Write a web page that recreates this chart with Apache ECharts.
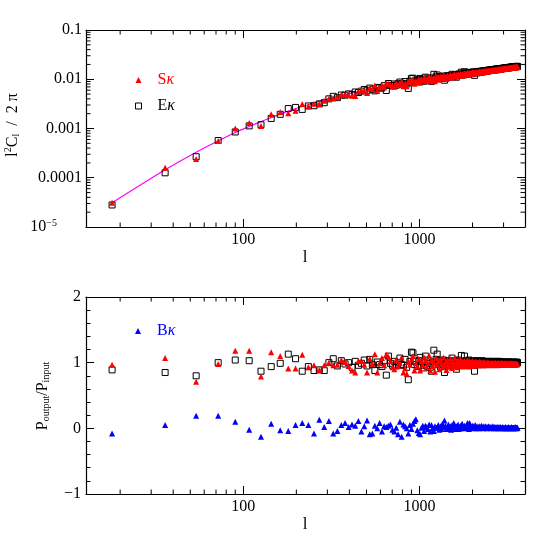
<!DOCTYPE html>
<html><head><meta charset="utf-8">
<script src="https://cdn.jsdelivr.net/npm/echarts@6/dist/echarts.min.js"></script>
<style>html,body{margin:0;padding:0;background:#fff}#c{width:554px;height:554px}</style>
</head><body><div id="c"></div>
<script>
// multipole bin centres
const ell = [18,36,54,72,90,108,126,144,162,180,
198,216,234,252,270,288,306,324,342,360,
378,396,414,432,450,468,486,504,522,540,
558,576,594,612,630,648,666,684,702,720,
738,756,774,792,810,828,846,864,882,900,
918,936,954,972,990,1008,1026,1044,1062,1080,
1098,1116,1134,1152,1170,1188,1206,1224,1242,1260,
1278,1296,1314,1332,1350,1368,1386,1404,1422,1440,
1458,1476,1494,1512,1530,1548,1566,1584,1602,1620,
1638,1656,1674,1692,1710,1728,1746,1764,1782,1800,
1818,1836,1854,1872,1890,1908,1926,1944,1962,1980,
1998,2016,2034,2052,2070,2088,2106,2124,2142,2160,
2178,2196,2214,2232,2250,2268,2286,2304,2322,2340,
2358,2376,2394,2412,2430,2448,2466,2484,2502,2520,
2538,2556,2574,2592,2610,2628,2646,2664,2682,2700,
2718,2736,2754,2772,2790,2808,2826,2844,2862,2880,
2898,2916,2934,2952,2970,2988,3006,3024,3042,3060,
3078,3096,3114,3132,3150,3168,3186,3204,3222,3240,
3258,3276,3294,3312,3330,3348,3366,3384,3402,3420,
3438,3456,3474,3492,3510,3528,3546,3564,3582,3600];

// l^2 C_l / 2pi, S kappa (top panel)
const clS = [0.000031,0.00016,0.00024,0.00056,0.0010,0.0013,0.00112,0.00195,0.00216,0.00205,0.0023,0.00314,0.00284,0.00317,0.00316,0.00365,0.0040,0.00408,0.00432,
0.00484,0.0049,0.0048,0.00462,0.00459,0.00571,0.00597,0.00577,0.00523,0.00668,
0.00632,0.00746,0.00574,0.00683,0.00754,0.00691,0.00818,0.00812,0.00775,0.00716,
0.00707,0.00827,0.0077,0.00812,0.00896,0.00718,0.00778,0.00718,0.00889,0.00863,
0.00945,0.0100,0.0081,0.00921,0.00884,0.0101,0.00845,0.00989,0.00941,0.0107,
0.0103,0.00935,0.0100,0.0113,0.00906,0.0108,0.00993,0.0106,0.00912,0.0114,
0.0105,0.0111,0.00981,0.0116,0.0109,0.0103,0.0121,0.0108,0.0114,0.0101,
0.0119,0.0113,0.0109,0.0123,0.0117,0.0108,0.0122,0.0115,0.0128,0.0115,
0.0122,0.0114,0.0128,0.0121,0.0119,0.0131,0.0124,0.0118,0.0130,0.0124,
0.0133,0.0123,0.0130,0.0128,0.0137,0.0124,0.0131,0.0136,0.0129,0.0136,
0.0131,0.0140,0.0130,0.0137,0.0135,0.0141,0.0133,0.0138,0.0141,0.0136,
0.0141,0.0136,0.0145,0.0140,0.0139,0.0145,0.0143,0.0139,0.0145,0.0143,
0.0148,0.0143,0.0146,0.0142,0.0149,0.0147,0.0152,0.0146,0.0149,0.0148,
0.0147,0.0153,0.0150,0.0147,0.0152,0.0155,0.0150,0.0152,0.0154,0.0152,
0.0158,0.0153,0.0155,0.0157,0.0153,0.0157,0.0161,0.0156,0.0158,0.0160,
0.0158,0.0160,0.0164,0.0160,0.0162,0.0164,0.0161,0.0163,0.0165,0.0164,
0.0163,0.0167,0.0166,0.0164,0.0168,0.0167,0.0166,0.0168,0.0170,0.0169,
0.0168,0.0170,0.0172,0.0169,0.0172,0.0172,0.0174,0.0171,0.0173,0.0174,
0.0176,0.0173,0.0175,0.0176,0.0175,0.0179,0.0177,0.0177,0.0176,0.0178,
0.0179];

// l^2 C_l / 2pi, E kappa (top panel)
const clE = [0.000028,0.000126,0.000267,0.00057,0.00085,0.00113,0.00119,0.0016,0.00194,0.00254,0.00268,0.00244,0.00287,0.0029,0.00316,0.00334,0.0040,0.0045,0.00423,
0.00479,0.00475,0.00505,0.00488,0.00551,0.00538,0.00574,0.00619,0.00584,0.00662,
0.00626,0.00581,0.00682,0.00669,0.00663,0.00742,0.00591,0.0082,0.00752,0.00739,
0.00801,0.00755,0.0081,0.00877,0.00805,0.00811,0.00898,0.00804,0.00651,0.00908,
0.0104,0.0105,0.00892,0.00949,0.00884,0.00984,0.0104,0.00931,0.0099,0.00911,
0.0110,0.00965,0.0106,0.0101,0.00958,0.00905,0.0106,0.0126,0.0103,0.0112,
0.0122,0.0106,0.0112,0.0103,0.0112,0.0108,0.0116,0.00956,0.0112,0.0116,
0.0110,0.0118,0.0113,0.0117,0.0111,0.0126,0.0118,0.0115,0.0123,0.0119,
0.0110,0.0125,0.0122,0.0128,0.0120,0.0126,0.0139,0.0123,0.0130,0.0122,
0.0142,0.0128,0.0134,0.0127,0.0133,0.0129,0.0138,0.0132,0.0129,0.0137,
0.0136,0.0132,0.0141,0.0136,0.0120,0.0141,0.0136,0.0140,0.0135,0.0144,
0.0140,0.0144,0.0138,0.0144,0.0143,0.0141,0.0148,0.0143,0.0146,0.0142,
0.0149,0.0147,0.0145,0.0149,0.0148,0.0152,0.0147,0.0151,0.0153,0.0150,
0.0155,0.0151,0.0153,0.0155,0.0151,0.0158,0.0155,0.0154,0.0158,0.0157,
0.0156,0.0160,0.0162,0.0157,0.0160,0.0162,0.0159,0.0161,0.0165,0.0160,
0.0163,0.0165,0.0162,0.0165,0.0167,0.0166,0.0164,0.0168,0.0167,0.0166,
0.0170,0.0169,0.0167,0.0170,0.0172,0.0169,0.0171,0.0172,0.0174,0.0171,
0.0173,0.0175,0.0172,0.0175,0.0175,0.0174,0.0178,0.0177,0.0175,0.0178,
0.0178,0.0177,0.0181,0.0180,0.0178,0.0181,0.0181,0.0179,0.0183,0.0182,
0.0182];

// input (theory) spectrum, magenta curve
const theoryL = [18,36,54,72,90,108,126,144,180,216,252,288,324,360,400,450,500,600,700,800,900,1000,1200,1400,1600,1800,2000,2400,2800,3200,3600];
const theoryV = [3.1e-5,1.45e-4,3.3e-4,5.6e-4,8.3e-4,1.1e-3,1.38e-3,1.66e-3,2.25e-3,2.8e-3,3.3e-3,3.8e-3,4.25e-3,4.65e-3,5.1e-3,5.6e-3,6.1e-3,6.95e-3,7.7e-3,8.4e-3,9.0e-3,9.6e-3,1.05e-2,1.135e-2,1.215e-2,1.29e-2,1.36e-2,1.49e-2,1.61e-2,1.72e-2,1.82e-2];

// P_output / P_input (bottom panel)
const ratioS = [0.97,1.07,0.71,0.98,1.18,1.18,0.79,1.16,1.10,0.91,0.91,1.12,0.93,0.96,0.89,0.96,1.00,0.96,0.97,
1.04,1.01,0.95,0.88,0.85,1.02,1.03,0.97,0.85,1.06,
0.98,1.13,0.85,0.99,1.07,0.96,1.12,1.09,1.02,0.93,
0.90,1.04,0.95,0.99,1.08,0.85,0.91,0.83,1.01,0.97,
1.05,1.10,0.88,0.99,0.94,1.06,0.88,1.02,0.96,1.08,
1.03,0.93,0.99,1.11,0.88,1.04,0.95,1.00,0.86,1.07,
0.97,1.02,0.90,1.05,0.99,0.93,1.08,0.96,1.01,0.89,
1.04,0.98,0.94,1.06,1.00,0.92,1.03,0.97,1.07,0.95,
1.00,0.93,1.04,0.98,0.96,1.05,0.99,0.94,1.02,0.97,
1.03,0.95,1.00,0.98,1.04,0.94,0.99,1.02,0.96,1.01,
0.97,1.03,0.95,1.00,0.98,1.02,0.96,0.99,1.01,0.97,
1.00,0.96,1.02,0.98,0.97,1.01,0.99,0.96,1.00,0.98,
1.01,0.97,0.99,0.96,1.00,0.98,1.01,0.97,0.99,0.98,
0.97,1.00,0.98,0.96,0.99,1.00,0.97,0.98,0.99,0.97,
1.00,0.97,0.98,0.99,0.96,0.98,1.00,0.97,0.98,0.99,
0.97,0.98,1.00,0.97,0.98,0.99,0.97,0.98,0.99,0.98,
0.97,0.99,0.98,0.97,0.99,0.98,0.97,0.98,0.99,0.98,
0.97,0.98,0.99,0.97,0.98,0.98,0.99,0.97,0.98,0.98,
0.99,0.97,0.98,0.98,0.97,0.99,0.98,0.98,0.97,0.98,
0.98];
const ratioE = [0.89,0.85,0.80,1.00,1.04,1.03,0.87,0.94,0.99,1.13,1.06,0.87,0.94,0.88,0.89,0.88,1.00,1.06,0.95,
1.03,0.98,1.00,0.93,1.02,0.96,0.99,1.04,0.95,1.05,
0.97,0.88,1.01,0.97,0.94,1.03,0.81,1.10,0.99,0.96,
1.02,0.95,1.00,1.07,0.97,0.96,1.05,0.93,0.74,1.02,
1.16,1.15,0.97,1.02,0.94,1.03,1.08,0.96,1.01,0.92,
1.10,0.96,1.04,0.99,0.93,0.87,1.01,1.19,0.97,1.05,
1.13,0.98,1.03,0.94,1.01,0.97,1.04,0.85,0.99,1.02,
0.96,1.03,0.98,1.01,0.95,1.07,1.00,0.97,1.03,0.98,
0.90,1.02,0.99,1.04,0.97,1.01,1.11,0.98,1.02,0.96,
1.10,0.99,1.03,0.97,1.01,0.98,1.04,0.99,0.96,1.02,
1.00,0.97,1.03,0.99,0.87,1.02,0.98,1.01,0.97,1.03,
0.99,1.02,0.97,1.01,1.00,0.98,1.03,0.99,1.01,0.97,
1.02,1.00,0.98,1.01,0.99,1.02,0.98,1.00,1.01,0.99,
1.02,0.99,1.00,1.01,0.98,1.02,1.00,0.99,1.01,1.00,
0.99,1.01,1.02,0.99,1.00,1.01,0.99,1.00,1.02,0.99,
1.00,1.01,0.99,1.00,1.01,1.00,0.99,1.01,1.00,0.99,
1.01,1.00,0.99,1.00,1.01,0.99,1.00,1.00,1.01,0.99,
1.00,1.01,0.99,1.00,1.00,0.99,1.01,1.00,0.99,1.00,
1.00,0.99,1.01,1.00,0.99,1.00,1.00,0.99,1.01,1.00,
1.00];
const ratioB = [-0.08,0.05,0.19,0.19,0.10,-0.02,-0.13,0.07,-0.03,-0.04,0.05,0.08,0.05,-0.08,0.13,0.02,0.11,-0.08,-0.04,
0.05,0.08,0.02,0.06,0.04,0.11,-0.05,0.03,0.12,-0.09,
-0.08,0.04,0.00,0.08,-0.05,0.03,0.02,0.04,0.06,-0.02,
-0.05,0.01,-0.09,0.10,-0.13,0.06,0.03,0.00,-0.08,0.05,
-0.01,0.07,0.11,0.14,-0.03,-0.07,-0.09,0.01,0.04,-0.04,
0.04,0.02,-0.01,0.06,-0.05,0.05,0.00,-0.04,0.03,0.01,
0.01,0.05,-0.02,0.03,-0.01,0.07,0.02,0.12,0.04,-0.01,
0.02,0.06,0.00,0.03,-0.02,0.05,0.01,0.08,0.02,-0.01,
0.03,0.01,0.06,-0.01,0.02,0.04,0.00,0.07,0.02,0.01,
0.04,0.00,0.03,0.02,0.08,0.01,-0.01,0.08,0.03,0.01,
0.02,0.04,0.00,0.03,0.01,0.05,0.02,0.00,0.03,0.01,
0.02,0.00,0.03,0.01,0.02,0.04,0.01,0.02,0.00,0.03,
0.01,0.02,0.03,0.01,0.00,0.02,0.01,0.03,0.02,0.01,
0.02,0.00,0.01,0.02,0.01,0.03,0.01,0.00,0.02,0.01,
0.01,0.02,0.00,0.01,0.02,0.01,0.00,0.02,0.01,0.01,
0.02,0.01,0.00,0.01,0.01,0.02,0.00,0.01,0.01,0.00,
0.01,0.02,0.01,0.00,0.01,0.01,0.00,0.01,0.02,0.01,
0.00,0.01,0.01,0.00,0.01,0.02,0.01,0.00,0.01,0.01,
0.01,0.00,0.01,0.01,0.02,0.00,0.01,0.01,0.00,0.01,
0.01];

// minor tick positions
const minorX = [20,30,40,50,60,70,80,90,200,300,400,500,600,700,800,900,2000,3000];
const minorYTop = [2e-5,3e-5,4e-5,5e-5,6e-5,7e-5,8e-5,9e-5,2e-4,3e-4,4e-4,5e-4,6e-4,7e-4,8e-4,9e-4,
  2e-3,3e-3,4e-3,5e-3,6e-3,7e-3,8e-3,9e-3,0.02,0.03,0.04,0.05,0.06,0.07,0.08,0.09];

[clS, clE, ratioS, ratioE, ratioB].forEach((a, i) => {
  if (a.length !== ell.length) throw new Error('length mismatch in array ' + i + ': ' + a.length);
});

const FONT = 'Liberation Serif';
const pairs = (xs, ys) => xs.map((x, i) => [x, ys[i]]);
const XMIN = 12.8, XMAX = 3970;
const axLine = {onZero: false, lineStyle: {color: '#000', width: 1.2}};
const tick = {inside: true, length: 8, lineStyle: {color: '#000', width: 1}};
const lab = {color: '#000', fontFamily: FONT, fontSize: 16};

function xPair(gi) {
  return [
    {type: 'log', gridIndex: gi, min: XMIN, max: XMAX, position: 'bottom', axisLine: axLine, axisTick: tick,
     axisLabel: Object.assign({showMinLabel: false, showMaxLabel: false, margin: 5,
       formatter: v => String(Math.round(v))}, lab), splitLine: {show: false}},
    {type: 'log', gridIndex: gi, min: XMIN, max: XMAX, position: 'top', axisLine: axLine, axisTick: tick,
     axisLabel: {show: false}, splitLine: {show: false}}
  ];
}
const yTopFmt = v => {
  const e = Math.round(Math.log10(v));
  if (e <= -5) return '{b|10}{s|−' + (-e) + '}{g| }';
  return v.toFixed(-e);
};
const yAxes = [
  {type: 'log', gridIndex: 0, min: 1e-5, max: 0.1, position: 'left', axisLine: axLine, axisTick: tick,
   axisLabel: Object.assign({margin: 4, formatter: yTopFmt,
     rich: {b: {fontFamily: FONT, fontSize: 16, color: '#000'},
            s: {fontFamily: FONT, fontSize: 10, color: '#000', padding: [0, 0, 7, 0]},
            g: {width: 25}}}, lab), splitLine: {show: false}},
  {type: 'log', gridIndex: 0, min: 1e-5, max: 0.1, position: 'right', axisLine: axLine, axisTick: tick,
   axisLabel: {show: false}, splitLine: {show: false}},
  {type: 'value', gridIndex: 1, min: -1, max: 2, interval: 1, position: 'left', axisLine: axLine, axisTick: tick,
   minorTick: {show: true, splitNumber: 5, length: 4.5, lineStyle: {color: '#000'}},
   axisLabel: Object.assign({margin: 5, formatter: v => v < 0 ? '−' + Math.abs(v) : String(v)}, lab),
   splitLine: {show: false}, minorSplitLine: {show: false}},
  {type: 'value', gridIndex: 1, min: -1, max: 2, interval: 1, position: 'right', axisLine: axLine, axisTick: tick,
   minorTick: {show: true, splitNumber: 5, length: 4.5, lineStyle: {color: '#000'}},
   axisLabel: {show: false}, splitLine: {show: false}, minorSplitLine: {show: false}}
];

function minorXSeries(axisIdx, yDummy) {
  return {type: 'custom', xAxisIndex: axisIdx, yAxisIndex: axisIdx, silent: true, z: 10, clip: false,
    data: minorX.map(v => [v, yDummy]),
    renderItem: (params, api) => {
      const cs = params.coordSys;
      const x = api.coord([api.value(0), api.value(1)])[0];
      return {type: 'group', children: [
        {type: 'line', shape: {x1: x, y1: cs.y, x2: x, y2: cs.y + 4.5}, style: {stroke: '#000', lineWidth: 1}},
        {type: 'line', shape: {x1: x, y1: cs.y + cs.height, x2: x, y2: cs.y + cs.height - 4.5}, style: {stroke: '#000', lineWidth: 1}}
      ]};
    }};
}
function minorYSeries(axisIdx, xDummy, vals) {
  return {type: 'custom', xAxisIndex: axisIdx, yAxisIndex: axisIdx, silent: true, z: 10, clip: false,
    data: vals.map(v => [xDummy, v]),
    renderItem: (params, api) => {
      const cs = params.coordSys;
      const y = api.coord([api.value(0), api.value(1)])[1];
      return {type: 'group', children: [
        {type: 'line', shape: {x1: cs.x, y1: y, x2: cs.x + 4.5, y2: y}, style: {stroke: '#000', lineWidth: 1}},
        {type: 'line', shape: {x1: cs.x + cs.width, y1: y, x2: cs.x + cs.width - 4.5, y2: y}, style: {stroke: '#000', lineWidth: 1}}
      ]};
    }};
}

const sqStyle = {color: 'rgba(0,0,0,0)', borderColor: '#000', borderWidth: 1, opacity: 1};
const legendText = {fontFamily: FONT, fontSize: 16, padding: [0, 0, 0, 11],
  rich: {k: {fontFamily: FONT, fontSize: 16, fontStyle: 'italic'}}};

const option = {
  animation: false,
  backgroundColor: '#fff',
  grid: [
    {left: 86, top: 30, width: 439, height: 197},
    {left: 86, top: 297, width: 439, height: 197}
  ],
  xAxis: [].concat(xPair(0), xPair(1)),
  yAxis: yAxes,
  legend: [
    {data: [{name: 'S', textStyle: {color: '#ff0000'}}, {name: 'E', textStyle: {color: '#000'}}],
     orient: 'vertical', left: 130, top: 67, itemWidth: 6, itemHeight: 6, itemGap: 10,
     itemStyle: {borderWidth: 1}, selectedMode: false, textStyle: legendText, formatter: n => n + '{k|κ}'},
    {data: [{name: 'B', textStyle: {color: '#0000ff'}}],
     orient: 'vertical', left: 130, top: 318, itemWidth: 6, itemHeight: 6,
     selectedMode: false, textStyle: legendText, formatter: n => n + '{k|κ}'}
  ],
  series: [
    {name: 'theory', type: 'line', xAxisIndex: 0, yAxisIndex: 0, data: pairs(theoryL, theoryV),
     showSymbol: false, smooth: 0.3, lineStyle: {color: '#ff00ff', width: 1.2}, z: 1, silent: true},
    {name: 'E', type: 'scatter', xAxisIndex: 0, yAxisIndex: 0, data: pairs(ell, clE),
     symbol: 'rect', symbolSize: 6, itemStyle: sqStyle, z: 2},
    {name: 'S', type: 'scatter', xAxisIndex: 0, yAxisIndex: 0, data: pairs(ell, clS),
     symbol: 'triangle', symbolSize: 6, itemStyle: {color: '#ff0000', opacity: 1}, z: 3},
    {name: 'E', type: 'scatter', xAxisIndex: 2, yAxisIndex: 2, data: pairs(ell, ratioE),
     symbol: 'rect', symbolSize: 6, itemStyle: sqStyle, z: 2},
    {name: 'S', type: 'scatter', xAxisIndex: 2, yAxisIndex: 2, data: pairs(ell, ratioS),
     symbol: 'triangle', symbolSize: 6, itemStyle: {color: '#ff0000', opacity: 1}, z: 3},
    {name: 'B', type: 'scatter', xAxisIndex: 2, yAxisIndex: 2, data: pairs(ell, ratioB),
     symbol: 'triangle', symbolSize: 6, itemStyle: {color: '#0000ff', opacity: 1}, z: 3},
    minorXSeries(0, 1e-3),
    minorYSeries(0, 100, minorYTop),
    minorXSeries(2, 0)
  ],
  graphic: [
    {type: 'text', x: 12.5, y: 125, rotation: Math.PI / 2,
     style: {text: 'l{sup|2}C{sub|l}  /  2 π', fill: '#000', fontFamily: FONT, fontSize: 16,
       align: 'center', verticalAlign: 'middle',
       rich: {sup: {fontFamily: FONT, fontSize: 10, padding: [0, 0, 8, 0]},
              sub: {fontFamily: FONT, fontSize: 10, padding: [7, 0, 0, 0]}}}},
    {type: 'text', x: 43, y: 396, rotation: Math.PI / 2,
     style: {text: 'P{sub|output}/P{sub|input}', fill: '#000', fontFamily: FONT, fontSize: 16,
       align: 'center', verticalAlign: 'middle',
       rich: {sub: {fontFamily: FONT, fontSize: 10, padding: [7, 0, 0, 0]}}}},
    {type: 'text', x: 305, y: 258,
     style: {text: 'l', fill: '#000', fontFamily: FONT, fontSize: 17, align: 'center', verticalAlign: 'middle'}},
    {type: 'text', x: 305, y: 525,
     style: {text: 'l', fill: '#000', fontFamily: FONT, fontSize: 17, align: 'center', verticalAlign: 'middle'}}
  ]
};
const chart = echarts.init(document.getElementById('c'));
chart.setOption(option);
</script></body></html>
